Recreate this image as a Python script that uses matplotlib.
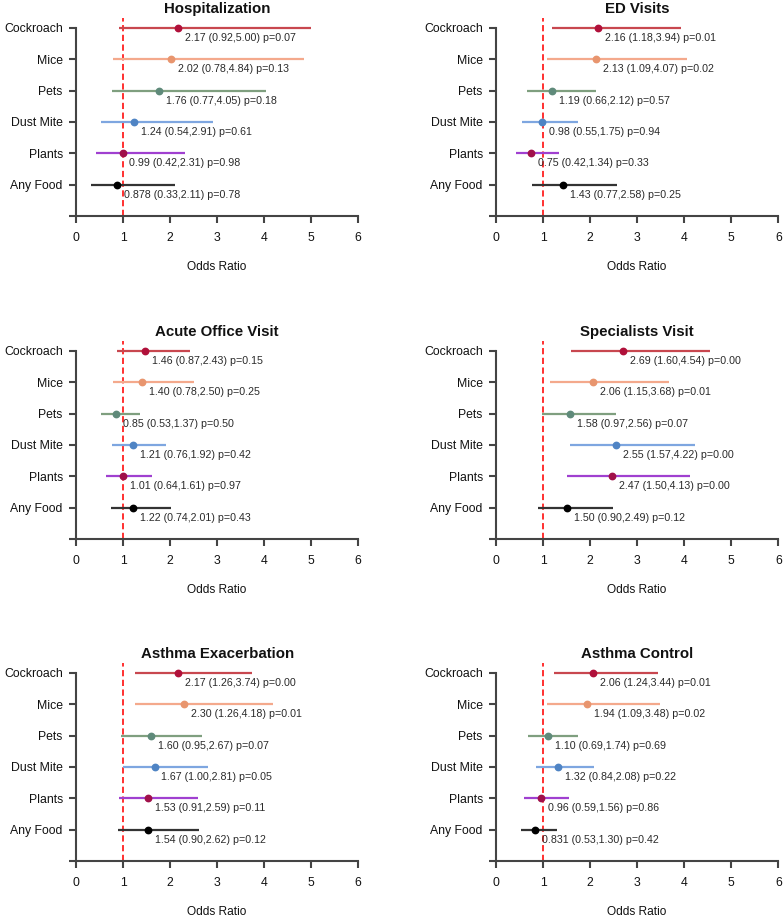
import matplotlib.pyplot as plt

plt.rcParams['font.family'] = ['Liberation Sans', 'DejaVu Sans']

# ----------------------------------------------------------------------
# Datos (OR, IC95%, p) por desenlace
# ----------------------------------------------------------------------
alergenos = ['Cockroach', 'Mice', 'Pets', 'Dust Mite', 'Plants', 'Any Food']

titulos = ['Hospitalization', 'ED Visits', 'Acute Office Visit',
           'Specialists Visit', 'Asthma Exacerbation', 'Asthma Control']

hosp_or = [2.17, 2.02, 1.76, 1.24, 0.99, 0.878]
hosp_lo = [0.92, 0.78, 0.77, 0.54, 0.42, 0.33]
hosp_hi = [5.00, 4.84, 4.05, 2.91, 2.31, 2.11]
hosp_p = [0.07, 0.13, 0.18, 0.61, 0.98, 0.78]

ed_or = [2.16, 2.13, 1.19, 0.98, 0.75, 1.43]
ed_lo = [1.18, 1.09, 0.66, 0.55, 0.42, 0.77]
ed_hi = [3.94, 4.07, 2.12, 1.75, 1.34, 2.58]
ed_p = [0.01, 0.02, 0.57, 0.94, 0.33, 0.25]

acute_or = [1.46, 1.40, 0.85, 1.21, 1.01, 1.22]
acute_lo = [0.87, 0.78, 0.53, 0.76, 0.64, 0.74]
acute_hi = [2.43, 2.50, 1.37, 1.92, 1.61, 2.01]
acute_p = [0.15, 0.25, 0.50, 0.42, 0.97, 0.43]

spec_or = [2.69, 2.06, 1.58, 2.55, 2.47, 1.50]
spec_lo = [1.60, 1.15, 0.97, 1.57, 1.50, 0.90]
spec_hi = [4.54, 3.68, 2.56, 4.22, 4.13, 2.49]
spec_p = [0.00, 0.01, 0.07, 0.00, 0.00, 0.12]

exac_or = [2.17, 2.30, 1.60, 1.67, 1.53, 1.54]
exac_lo = [1.26, 1.26, 0.95, 1.00, 0.91, 0.90]
exac_hi = [3.74, 4.18, 2.67, 2.81, 2.59, 2.62]
exac_p = [0.00, 0.01, 0.07, 0.05, 0.11, 0.12]

ctrl_or = [2.06, 1.94, 1.10, 1.32, 0.96, 0.831]
ctrl_lo = [1.24, 1.09, 0.69, 0.84, 0.59, 0.53]
ctrl_hi = [3.44, 3.48, 1.74, 2.08, 1.56, 1.30]
ctrl_p = [0.01, 0.02, 0.69, 0.22, 0.86, 0.42]

paneles = [
    (hosp_or, hosp_lo, hosp_hi, hosp_p),
    (ed_or, ed_lo, ed_hi, ed_p),
    (acute_or, acute_lo, acute_hi, acute_p),
    (spec_or, spec_lo, spec_hi, spec_p),
    (exac_or, exac_lo, exac_hi, exac_p),
    (ctrl_or, ctrl_lo, ctrl_hi, ctrl_p),
]

# colores de linea y de punto por alergeno
col_linea = ['#c8474f', '#f4a98c', '#7f9f7f', '#7ea6e0', '#a040d0', '#333333']
col_punto = ['#b0103a', '#e8956e', '#5f8a7a', '#4f84c4', '#a0104a', '#000000']

eje_col = '#444444'


def fmt_or(v):
    return f'{v:.3g}' if v < 1 else f'{v:.2f}'


# posiciones de los ejes (fraccion de figura)
col_x = [0.0969, 0.6327]
col_w = 0.3600
fila_y = [0.765, 0.4135, 0.0631]
fila_h = 0.2046

fig = plt.figure(figsize=(7.84, 9.19), dpi=100)

for i, (titulo, (est, lo, hi, pv)) in enumerate(zip(titulos, paneles)):
    fila, col = divmod(i, 2)
    ax = fig.add_axes([col_x[col], fila_y[fila], col_w, fila_h])

    ys = [6 - k for k in range(len(alergenos))]

    # linea de referencia OR = 1
    ax.plot([1, 1], [0, 6.32], color='#ff3030', ls=(0, (3.2, 1.8)), lw=1.4,
            clip_on=False, zorder=1)

    for k, y in enumerate(ys):
        ax.plot([lo[k], hi[k]], [y, y], color=col_linea[k], lw=1.6,
                solid_capstyle='butt', clip_on=False, zorder=2)
        ax.plot(est[k], y, 'o', color=col_punto[k], ms=4.6, clip_on=False,
                zorder=3)
        etiqueta = f'{fmt_or(est[k])} ({lo[k]:.2f},{hi[k]:.2f}) p={pv[k]:.2f}'
        ax.annotate(etiqueta, (est[k], y), xytext=(5, -7.3),
                    textcoords='offset points', ha='left', va='center',
                    fontsize=7.7, color='#2a2a2a')

    ax.set_xlim(0, 6)
    ax.set_ylim(0, 6)
    ax.set_xticks(range(7))
    ax.set_yticks([0] + ys)
    ax.set_yticklabels([''] + alergenos)

    for s in ['top', 'right']:
        ax.spines[s].set_visible(False)
    for s in ['left', 'bottom']:
        ax.spines[s].set_color(eje_col)
        ax.spines[s].set_linewidth(1.5)

    ax.tick_params(axis='both', direction='out', length=5, width=1.5,
                   color=eje_col, labelsize=8.8, labelcolor='#111111')
    ax.tick_params(axis='x', pad=6.5)
    ax.tick_params(axis='y', pad=4.5)

    ax.text(3, 6.62, titulo, ha='center', va='center', fontsize=10.8,
            fontweight='bold', color='#111111')
    ax.text(3, -1.63, 'Odds Ratio', ha='center', va='center', fontsize=8.6,
            color='#111111')

plt.savefig('out.png', dpi=100)
